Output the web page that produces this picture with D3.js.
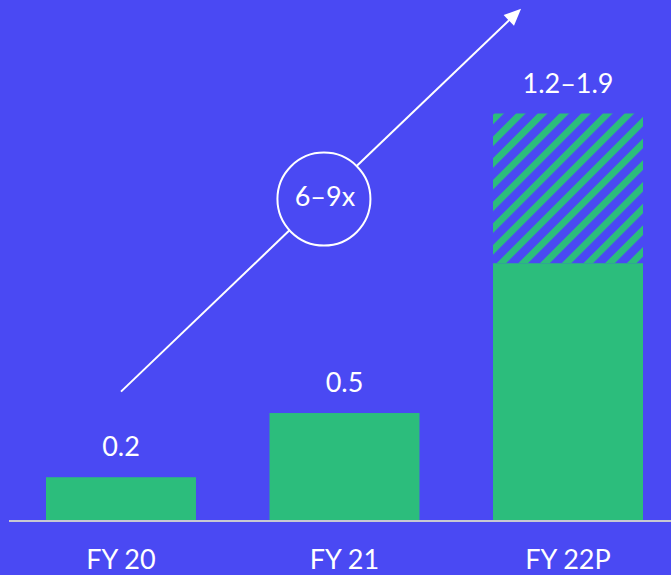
<!DOCTYPE html>
<html>
<head>
<meta charset="utf-8">
<script src="https://cdn.jsdelivr.net/npm/d3@7"></script>
<style>
  html, body { margin: 0; padding: 0; background: #4A49F3; }
  svg { display: block; }
  text { font-family: Lato, "Open Sans", sans-serif; fill: #ffffff; }
</style>
</head>
<body>
<svg id="chart" width="671" height="575"></svg>
<script>
// ---- data ----
const categories = ["FY 20", "FY 21", "FY 22P"];
const baseValues = [0.2, 0.5, 1.2];          // solid part
const highValues = [0.2, 0.5, 1.9];          // top of range (hatched above base)
const valueLabels = ["0.2", "0.5", "1.2–1.9"];
const growthLabel = "6–9x";
// growth arrow in data space: band index (0 = FY 20 centre) and value
const arrowStart = { i: 0, v: 0.6 };
const arrowEnd = { i: 1.79, v: 2.39 };
const badgeCenter = { i: 0.908, v: 1.5 };

// ---- colours ----
const BG = "#4A49F3";
const GREEN = "#2CBD7C";

const svg = d3.select("#chart");
const W = 671, H = 575;
svg.append("rect").attr("width", W).attr("height", H).attr("fill", BG);

const x = d3.scaleBand().domain(categories).range([46, 643]).paddingInner(0.329).paddingOuter(0);
const y = d3.scaleLinear().domain([0, 1.9]).range([520, 113.5]);
const step = x.step();
const xi = i => x(categories[0]) + x.bandwidth() / 2 + i * step;

// hatch pattern (45° stripes)
const P = 15.35;
const defs = svg.append("defs");
const pat = defs.append("pattern")
  .attr("id", "hatch")
  .attr("patternUnits", "userSpaceOnUse")
  .attr("width", P).attr("height", P)
  .attr("patternTransform", "rotate(-45)");
pat.append("rect").attr("width", P).attr("height", P).attr("fill", BG);
pat.append("rect").attr("width", P).attr("height", 6.8).attr("fill", GREEN);

// hatched range parts
svg.append("g").selectAll("rect")
  .data(categories.filter((c, i) => highValues[i] > baseValues[i]))
  .join("rect")
  .attr("x", c => x(c))
  .attr("y", c => y(highValues[categories.indexOf(c)]))
  .attr("width", x.bandwidth())
  .attr("height", c => y(baseValues[categories.indexOf(c)]) - y(highValues[categories.indexOf(c)]))
  .attr("fill", "url(#hatch)");

// solid bars
svg.append("g").selectAll("rect")
  .data(categories)
  .join("rect")
  .attr("x", c => x(c))
  .attr("y", (c, i) => y(baseValues[i]))
  .attr("width", x.bandwidth())
  .attr("height", (c, i) => y(0) - y(baseValues[i]))
  .attr("fill", GREEN);

// baseline
svg.append("line")
  .attr("x1", 9).attr("x2", W)
  .attr("y1", y(0) + 1).attr("y2", y(0) + 1)
  .attr("stroke", "#C8C8D2").attr("stroke-width", 2);

// value labels
svg.append("g").selectAll("text")
  .data(categories)
  .join("text")
  .attr("x", c => x(c) + x.bandwidth() / 2)
  .attr("y", (c, i) => y(highValues[i]) - 21)
  .attr("text-anchor", "middle")
  .attr("font-size", 27)
  .text((c, i) => valueLabels[i]);

// category labels
svg.append("g").selectAll("text")
  .data(categories)
  .join("text")
  .attr("x", c => x(c) + x.bandwidth() / 2)
  .attr("y", 569)
  .attr("text-anchor", "middle")
  .attr("font-size", 27)
  .text(c => c);

// growth arrow with badge
const x1 = xi(arrowStart.i), y1 = y(arrowStart.v);
const x2 = xi(arrowEnd.i), y2 = y(arrowEnd.v);
const cx = xi(badgeCenter.i), cy = y(badgeCenter.v);
const r = 46.5;
const dx = x2 - x1, dy = y2 - y1, len = Math.hypot(dx, dy);
const ux = dx / len, uy = dy / len;
const tC = (cx - x1) * ux + (cy - y1) * uy;
const headLen = 17, headHalf = 7.5;
const ag = svg.append("g");
ag.append("line")
  .attr("x1", x1).attr("y1", y1)
  .attr("x2", x1 + ux * (tC - r)).attr("y2", y1 + uy * (tC - r))
  .attr("stroke", "#fff").attr("stroke-width", 2);
ag.append("line")
  .attr("x1", x1 + ux * (tC + r)).attr("y1", y1 + uy * (tC + r))
  .attr("x2", x2 - ux * headLen * 0.8).attr("y2", y2 - uy * headLen * 0.8)
  .attr("stroke", "#fff").attr("stroke-width", 2);
const bx = x2 - ux * headLen, by = y2 - uy * headLen;
ag.append("path")
  .attr("d", d3.line()([
    [x2, y2],
    [bx - uy * headHalf, by + ux * headHalf],
    [bx + uy * headHalf, by - ux * headHalf]
  ]) + "Z")
  .attr("fill", "#fff");
ag.append("circle")
  .attr("cx", cx).attr("cy", cy).attr("r", r)
  .attr("fill", "none").attr("stroke", "#fff").attr("stroke-width", 2);
ag.append("text")
  .attr("x", cx + 1).attr("y", cy + 7)
  .attr("text-anchor", "middle")
  .attr("font-size", 27)
  .text(growthLabel);
</script>
</body>
</html>
